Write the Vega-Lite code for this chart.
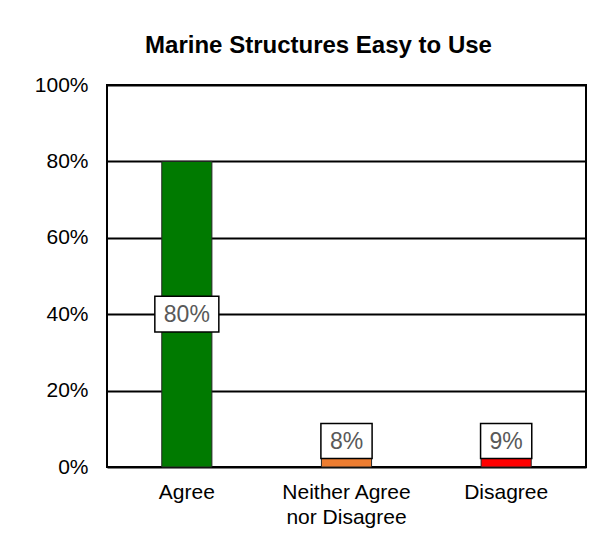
{
  "$schema": "https://vega.github.io/schema/vega-lite/v6.json",
  "width": 479,
  "height": 382,
  "autosize": {"type": "none"},
  "padding": {"left": 107, "top": 85, "right": 28, "bottom": 91},
  "background": "white",
  "title": {
    "text": "Marine Structures Easy to Use",
    "font": "Liberation Sans",
    "fontSize": 24,
    "fontWeight": "bold",
    "color": "black",
    "anchor": "middle",
    "frame": "group",
    "baseline": "alphabetic",
    "offset": 31,
    "dx": -28,
    "dy": 34
  },
  "data": {
    "values": [
      {"answer": "Agree", "value": 0.80},
      {"answer": "Neither Agree nor Disagree", "value": 0.08},
      {"answer": "Disagree", "value": 0.09}
    ]
  },
  "transform": [
    {"calculate": "max(datum.value / 2, 0.068)", "as": "labelY"}
  ],
  "encoding": {
    "x": {
      "field": "answer",
      "type": "nominal",
      "sort": null,
      "scale": {"paddingInner": 0.686, "paddingOuter": 0.343},
      "axis": {
        "title": null,
        "domain": false,
        "ticks": false,
        "labelAngle": 0,
        "labelFont": "Liberation Sans",
        "labelFontSize": 21,
        "labelColor": "black",
        "labelPadding": 14,
        "labelLineHeight": 25,
        "labelExpr": "datum.label == 'Neither Agree nor Disagree' ? ['Neither Agree', 'nor Disagree'] : datum.label"
      }
    }
  },
  "layer": [
    {
      "mark": {"type": "bar", "stroke": "#262626", "strokeWidth": 1},
      "encoding": {
        "y": {
          "field": "value",
          "type": "quantitative",
          "scale": {"domain": [0, 1], "nice": false},
          "axis": {
            "title": null,
            "values": [0, 0.2, 0.4, 0.6, 0.8, 1],
            "format": ".0%",
            "domain": false,
            "ticks": false,
            "grid": true,
            "gridColor": "black",
            "gridWidth": 2,
            "gridOpacity": 1,
            "labelFont": "Liberation Sans",
            "labelFontSize": 21,
            "labelColor": "black",
            "labelPadding": 19
          }
        },
        "color": {
          "field": "answer",
          "type": "nominal",
          "scale": {
            "domain": ["Agree", "Neither Agree nor Disagree", "Disagree"],
            "range": ["#007A00", "#ED7D31", "#FF0000"]
          },
          "legend": null
        }
      }
    },
    {
      "mark": {
        "type": "point",
        "filled": true,
        "fill": "white",
        "stroke": "black",
        "strokeWidth": 1.5,
        "opacity": 1,
        "size": 4096
      },
      "encoding": {
        "y": {"field": "labelY", "type": "quantitative"},
        "shape": {
          "condition": {"test": "datum.value >= 0.1", "value": "M-1,-0.56H1V0.56H-1Z"},
          "value": "M-0.8,-0.55H0.8V0.55H-0.8Z"
        }
      }
    },
    {
      "mark": {
        "type": "text",
        "font": "Liberation Sans",
        "fontSize": 23,
        "color": "#595959",
        "baseline": "middle",
        "align": "center",
        "dy": 1
      },
      "encoding": {
        "y": {"field": "labelY", "type": "quantitative"},
        "text": {"field": "value", "type": "quantitative", "format": ".0%"}
      }
    }
  ],
  "config": {
    "view": {"stroke": "black", "strokeWidth": 2}
  }
}
